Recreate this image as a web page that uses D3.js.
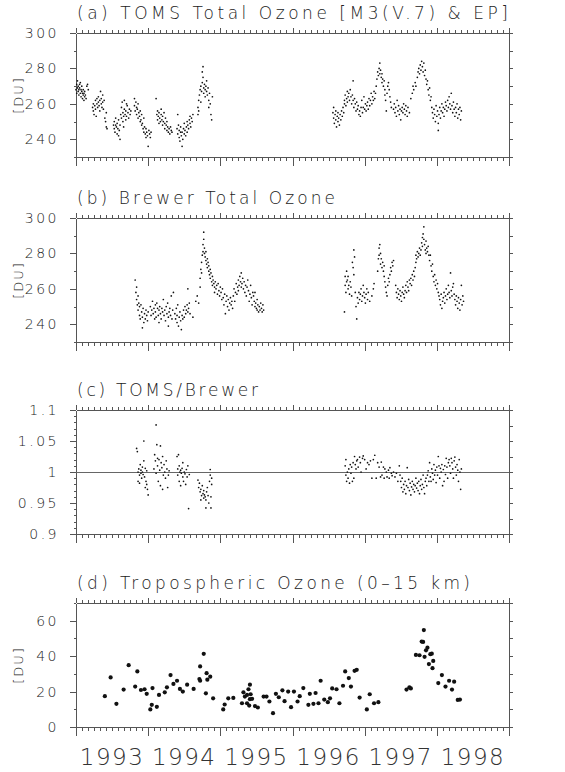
<!DOCTYPE html>
<meta charset="utf-8">
<head>
    <title>Ozone time series</title>
    <style>
        body { margin: 0; background: #fff; }
        svg { display: block; }
        text { font-family: "DejaVu Sans", sans-serif; font-weight: 200; fill: #222; }
        .axis path, .axis line { stroke: #555; stroke-width: 1; shape-rendering: crispEdges; }
        .axis text { font-family: "DejaVu Sans", sans-serif; font-weight: 200; font-size: 14px; letter-spacing: 2.5px; fill: #222; }
        .year { font-family: "DejaVu Sans", sans-serif; font-weight: 200; font-size: 23px; letter-spacing: 1.5px; fill: #333; }
    </style>
</head>

<body>
    <script src="https://cdn.jsdelivr.net/npm/d3@7"></script>

    <script>
        // data: [decimal year, value]
        var tomsOzone = [
            [1993.00,268],[1993.01,271],[1993.01,266],[1993.02,269],[1993.02,273],[1993.03,267],[1993.03,270],[1993.04,265],[1993.04,268],[1993.05,271],
            [1993.05,269],[1993.06,266],[1993.06,272],[1993.07,268],[1993.07,264],[1993.08,267],[1993.08,270],[1993.09,266],[1993.09,263],[1993.10,268],
            [1993.10,265],[1993.11,266],[1993.11,262],[1993.12,264],[1993.12,267],[1993.13,265],[1993.14,263],[1993.15,270],[1993.16,271],[1993.17,268],
            [1993.23,258],[1993.24,256],[1993.24,260],[1993.25,254],[1993.26,259],[1993.27,257],[1993.27,262],[1993.28,253],[1993.29,260],[1993.29,263],
            [1993.30,258],[1993.31,261],[1993.31,264],[1993.32,259],[1993.33,262],[1993.33,256],[1993.34,267],[1993.35,260],[1993.35,263],[1993.36,258],
            [1993.37,265],[1993.37,261],[1993.38,257],[1993.39,262],[1993.40,252],[1993.41,250],[1993.42,247],[1993.43,246],[1993.42,255],
            [1993.52,248],[1993.53,246],[1993.53,250],[1993.54,244],[1993.55,248],[1993.55,252],[1993.56,247],[1993.57,243],[1993.57,249],[1993.58,246],
            [1993.59,251],[1993.59,242],[1993.60,245],[1993.61,248],[1993.61,240],[1993.62,254],[1993.63,258],[1993.63,252],[1993.64,261],[1993.65,255],
            [1993.65,250],[1993.66,253],[1993.67,257],[1993.67,262],[1993.68,254],[1993.69,251],[1993.69,256],[1993.70,253],[1993.71,259],[1993.72,255],
            [1993.73,252],[1993.74,257],[1993.75,254],[1993.76,256],[1993.66,247],[1993.70,260],
            [1993.81,263],[1993.81,259],[1993.82,256],[1993.83,261],[1993.84,258],[1993.84,254],[1993.85,257],[1993.86,260],[1993.86,252],[1993.87,255],
            [1993.88,253],[1993.89,250],[1993.89,256],[1993.90,251],[1993.91,248],[1993.91,254],[1993.92,249],[1993.93,246],[1993.94,252],[1993.94,244],
            [1993.95,247],[1993.96,243],[1993.97,246],[1993.97,241],[1993.98,244],[1993.99,242],[1994.00,236],[1994.01,245],[1994.02,243],[1994.03,241],[1994.04,244],
            [1994.11,263],[1994.12,254],[1994.13,251],[1994.13,256],[1994.14,253],[1994.15,249],[1994.15,255],[1994.16,252],[1994.17,250],[1994.18,254],
            [1994.18,257],[1994.19,251],[1994.20,248],[1994.20,253],[1994.21,250],[1994.22,255],[1994.23,249],[1994.23,246],[1994.24,252],[1994.25,248],
            [1994.26,245],[1994.26,250],[1994.27,247],[1994.28,244],[1994.29,246],[1994.30,243],[1994.31,247],[1994.32,245],[1994.33,244],
            [1994.40,246],[1994.41,243],[1994.41,254],[1994.42,248],[1994.43,241],[1994.43,245],[1994.44,239],[1994.45,244],[1994.45,247],[1994.46,242],
            [1994.47,236],[1994.47,244],[1994.48,240],[1994.49,246],[1994.50,243],[1994.50,249],[1994.51,245],[1994.52,242],[1994.53,247],[1994.54,250],
            [1994.54,244],[1994.55,248],[1994.56,246],[1994.57,251],[1994.58,249],[1994.59,247],[1994.60,252],[1994.61,250],[1994.62,254],[1994.58,253],
            [1994.69,258],[1994.69,254],[1994.70,262],[1994.70,256],[1994.71,265],[1994.72,268],[1994.73,261],[1994.73,270],[1994.74,267],[1994.75,272],
            [1994.75,278],[1994.76,281],[1994.76,275],[1994.77,269],[1994.77,266],[1994.78,271],[1994.79,268],[1994.79,264],[1994.80,270],[1994.81,273],
            [1994.81,267],[1994.82,265],[1994.83,269],[1994.84,262],[1994.84,258],[1994.85,266],[1994.86,260],[1994.87,254],[1994.88,251],[1994.89,264],
            [1996.56,255],[1996.57,252],[1996.57,258],[1996.58,249],[1996.59,254],[1996.60,251],[1996.60,256],[1996.61,247],[1996.62,253],[1996.63,250],
            [1996.63,255],[1996.64,252],[1996.65,248],[1996.66,254],[1996.67,251],[1996.68,256],[1996.69,253],[1996.70,258],[1996.71,255],[1996.72,260],
            [1996.72,262],[1996.73,265],[1996.74,259],[1996.75,263],[1996.76,267],[1996.76,261],[1996.77,264],[1996.78,266],[1996.79,262],[1996.80,268],
            [1996.81,264],[1996.82,260],[1996.83,265],[1996.84,262],[1996.84,273],[1996.85,258],[1996.86,263],[1996.87,260],[1996.88,256],[1996.89,261],
            [1996.90,257],[1996.91,259],[1996.92,254],
            [1996.93,256],[1996.94,253],[1996.95,258],[1996.96,262],[1996.97,255],[1996.98,258],[1996.99,264],[1997.00,257],[1997.01,260],[1997.02,256],
            [1997.03,259],[1997.04,261],[1997.05,257],[1997.06,263],[1997.07,259],[1997.08,262],[1997.09,266],[1997.10,260],[1997.11,264],[1997.12,262],
            [1997.13,267],[1997.14,263],
            [1997.15,266],[1997.16,270],[1997.17,274],[1997.18,278],[1997.19,276],[1997.20,280],[1997.21,283],[1997.21,277],[1997.22,279],[1997.23,275],
            [1997.24,272],[1997.24,277],[1997.25,274],[1997.26,270],[1997.27,273],[1997.28,268],[1997.28,265],[1997.29,262],[1997.30,256],[1997.31,266],
            [1997.32,270],[1997.33,272],[1997.34,268],[1997.35,264],[1997.36,261],[1997.37,258],
            [1997.40,257],[1997.41,260],[1997.42,255],[1997.43,258],[1997.44,253],[1997.45,262],[1997.46,256],[1997.47,259],[1997.48,254],[1997.49,257],
            [1997.50,251],[1997.51,256],[1997.52,258],[1997.53,255],[1997.54,260],[1997.55,257],[1997.56,254],[1997.57,259],[1997.58,256],[1997.59,253],
            [1997.60,258],[1997.62,255],
            [1997.64,263],[1997.66,266],[1997.67,270],[1997.68,268],[1997.70,272],[1997.71,270],[1997.73,275],[1997.74,278],[1997.75,280],[1997.76,277],
            [1997.77,282],[1997.78,279],[1997.79,284],[1997.80,281],[1997.81,278],[1997.82,283],[1997.83,276],[1997.84,279],[1997.85,274],[1997.86,271],
            [1997.87,273],[1997.88,268],[1997.89,265],[1997.90,269],[1997.91,262],[1997.92,264],
            [1997.93,258],[1997.94,255],[1997.95,252],[1997.96,257],[1997.97,254],[1997.98,250],[1997.99,259],[1998.00,253],[1998.01,256],[1998.02,245],
            [1998.02,249],[1998.03,254],[1998.04,258],[1998.05,252],[1998.06,256],[1998.07,260],[1998.08,255],[1998.09,258],[1998.10,253],[1998.11,257],
            [1998.12,261],[1998.13,259],[1998.14,256],[1998.15,262],[1998.16,258],[1998.17,264],[1998.18,260],[1998.19,257],[1998.20,266],[1998.21,259],
            [1998.22,255],[1998.23,261],[1998.24,257],[1998.25,253],[1998.26,258],[1998.27,255],[1998.28,260],[1998.29,252],[1998.30,257],[1998.31,254],
            [1998.32,258],[1998.33,251],[1998.34,256]
        ];

        var brewerOzone = [
            [1993.82,265],[1993.83,258],[1993.84,254],[1993.84,261],[1993.85,251],[1993.86,256],[1993.86,248],[1993.87,252],[1993.88,245],[1993.88,250],
            [1993.89,243],[1993.90,251],[1993.91,247],[1993.92,238],[1993.92,244],[1993.93,249],[1993.94,241],[1993.95,246],[1993.96,243],[1993.97,248],
            [1993.98,245],[1993.99,242],[1994.00,247],
            [1994.03,250],[1994.04,245],[1994.05,248],[1994.06,253],[1994.07,246],[1994.08,249],[1994.09,243],[1994.10,251],[1994.10,247],[1994.11,244],
            [1994.12,252],[1994.13,249],[1994.14,245],[1994.15,241],[1994.15,248],[1994.16,250],[1994.17,246],[1994.18,243],[1994.19,249],[1994.20,247],
            [1994.21,254],[1994.22,245],[1994.23,248],[1994.24,242],[1994.25,250],[1994.26,246],[1994.27,252],[1994.28,244],[1994.28,239],[1994.29,247],
            [1994.30,249],[1994.31,245],[1994.32,256],[1994.33,243],[1994.34,248],[1994.35,258],
            [1994.37,246],[1994.38,243],[1994.39,249],[1994.40,241],[1994.40,245],[1994.41,251],[1994.42,239],[1994.43,244],[1994.44,247],[1994.45,242],
            [1994.46,237],[1994.47,245],[1994.48,243],[1994.49,248],[1994.50,244],[1994.51,250],[1994.52,246],[1994.53,248],[1994.54,251],[1994.55,247],
            [1994.56,249],[1994.57,252],[1994.58,246],[1994.55,260],
            [1994.62,244],[1994.66,253],[1994.68,256],[1994.70,252],[1994.72,261],
            [1994.72,266],[1994.73,271],[1994.74,275],[1994.74,269],[1994.75,279],[1994.76,281],[1994.76,285],[1994.77,292],[1994.77,288],[1994.78,280],
            [1994.78,283],[1994.79,278],[1994.80,276],[1994.80,281],[1994.81,274],[1994.82,277],[1994.82,272],[1994.83,275],[1994.84,270],[1994.84,273],
            [1994.85,268],[1994.86,271],[1994.86,266],[1994.87,269],[1994.88,264],[1994.89,267],[1994.89,262],[1994.90,265],[1994.91,263],[1994.92,261],[1994.92,258],
            [1994.93,264],[1994.94,260],[1994.95,262],[1994.96,257],[1994.97,263],[1994.98,259],[1994.99,256],[1995.00,261],[1995.01,258],[1995.02,254],
            [1995.03,260],[1995.04,255],[1995.05,251],[1995.06,257],[1995.07,246],[1995.08,253],[1995.09,256],[1995.10,250],[1995.11,254],[1995.12,248],
            [1995.13,252],[1995.14,255],[1995.15,251],[1995.16,253],[1995.17,249],
            [1995.18,256],[1995.19,260],[1995.20,253],[1995.21,258],[1995.22,263],[1995.23,257],[1995.24,261],[1995.25,265],[1995.25,259],[1995.26,262],
            [1995.27,267],[1995.28,264],[1995.29,261],[1995.29,269],[1995.30,263],[1995.31,266],[1995.32,260],[1995.33,264],[1995.34,258],[1995.35,262],
            [1995.36,256],[1995.37,261],[1995.38,265],[1995.39,259],[1995.40,253],[1995.41,257],[1995.42,262],[1995.43,255],[1995.44,251],[1995.45,258],
            [1995.46,256],[1995.47,253],[1995.48,250],[1995.48,258],[1995.49,252],[1995.50,249],[1995.51,254],[1995.51,248],[1995.52,251],[1995.53,247],
            [1995.54,250],[1995.55,248],[1995.56,252],[1995.57,249],[1995.58,247],[1995.59,251],[1995.60,248],
            [1996.72,247],[1996.73,262],[1996.73,267],[1996.74,258],[1996.75,264],[1996.75,270],[1996.76,265],[1996.77,260],[1996.77,267],[1996.78,262],
            [1996.79,257],[1996.80,264],[1996.81,261],[1996.82,256],[1996.83,275],[1996.84,272],[1996.85,282],[1996.85,268],[1996.86,278],[1996.87,258],
            [1996.88,250],[1996.89,243],[1996.90,255],[1996.91,252],
            [1996.92,258],[1996.93,254],[1996.94,257],[1996.95,260],[1996.96,253],[1996.97,256],[1996.98,262],[1996.99,258],[1997.00,255],[1997.01,252],
            [1997.02,257],[1997.03,260],[1997.04,254],[1997.05,258],[1997.07,253],[1997.10,256],[1997.12,260],[1997.13,263],
            [1997.18,270],[1997.19,277],[1997.20,283],[1997.20,279],[1997.21,285],[1997.22,280],[1997.22,274],[1997.23,277],[1997.24,272],[1997.25,275],
            [1997.26,270],[1997.27,273],[1997.27,267],[1997.28,264],[1997.29,261],[1997.30,258],[1997.31,256],[1997.32,262],[1997.33,266],[1997.34,264],
            [1997.35,268],[1997.36,272],[1997.37,270],[1997.38,275],[1997.39,273],[1997.40,276],
            [1997.43,262],[1997.44,258],[1997.45,255],[1997.46,260],[1997.47,257],[1997.48,254],[1997.49,259],[1997.50,256],[1997.51,253],[1997.52,258],
            [1997.53,261],[1997.54,257],[1997.55,255],[1997.56,259],[1997.57,262],[1997.58,258],[1997.59,264],[1997.60,261],[1997.61,259],[1997.62,265],
            [1997.63,263],[1997.64,266],[1997.65,262],[1997.66,268],[1997.67,265],[1997.68,270],[1997.69,267],[1997.70,272],[1997.71,275],[1997.71,279],
            [1997.72,277],[1997.73,281],[1997.74,278],[1997.75,280],[1997.76,283],[1997.77,279],[1997.78,282],
            [1997.79,286],[1997.80,289],[1997.80,284],[1997.81,291],[1997.82,295],[1997.82,288],[1997.83,285],[1997.84,282],[1997.85,287],[1997.85,280],
            [1997.86,283],[1997.87,281],[1997.88,284],[1997.89,279],
            [1997.90,276],[1997.91,279],[1997.92,273],[1997.93,270],[1997.94,274],[1997.95,267],[1997.96,264],[1997.97,268],[1997.98,262],[1997.99,265],
            [1998.00,260],[1998.01,263],[1998.02,258],[1998.03,256],
            [1998.04,254],[1998.05,251],[1998.06,257],[1998.07,249],[1998.08,253],[1998.09,255],[1998.10,258],[1998.11,252],[1998.12,256],[1998.13,260],
            [1998.14,254],[1998.15,257],[1998.16,262],[1998.17,258],[1998.18,255],[1998.19,269],[1998.20,259],[1998.21,256],[1998.22,261],[1998.23,263],
            [1998.24,257],[1998.25,254],[1998.26,251],[1998.27,256],[1998.28,253],[1998.29,249],[1998.30,255],[1998.31,252],[1998.32,248],[1998.33,254],
            [1998.34,262],[1998.35,251],[1998.36,256],[1998.37,253]
        ];

        var tomsBrewerRatio = [
            [1993.84,1.038],[1993.85,1.033],[1993.86,1.000],[1993.86,0.985],[1993.87,1.005],[1993.88,0.995],[1993.88,0.982],[1993.89,1.012],[1993.90,0.998],
            [1993.90,1.003],[1993.91,0.990],[1993.92,1.008],[1993.92,1.000],[1993.93,0.996],[1993.94,1.050],[1993.94,1.018],[1993.95,0.992],[1993.96,1.006],
            [1993.96,0.975],[1993.97,0.985],[1993.98,0.980],[1993.99,0.972],[1994.00,0.963],[1993.98,1.002],
            [1994.08,1.005],[1994.09,1.028],[1994.10,1.018],[1994.11,1.076],[1994.11,0.998],[1994.12,1.044],[1994.13,1.022],[1994.13,1.010],[1994.14,0.985],
            [1994.15,1.020],[1994.16,1.003],[1994.17,1.042],[1994.17,0.978],[1994.18,1.015],[1994.19,1.007],[1994.20,1.025],[1994.20,0.972],[1994.21,0.995],
            [1994.22,1.012],[1994.23,1.000],[1994.24,0.990],[1994.25,1.018],[1994.26,1.005],[1994.27,0.975],[1994.28,0.995],[1994.29,1.002],
            [1994.40,1.025],[1994.41,1.005],[1994.41,0.995],[1994.42,1.028],[1994.43,1.010],[1994.43,0.985],[1994.44,1.000],[1994.45,1.003],[1994.45,0.978],
            [1994.46,0.998],[1994.47,1.006],[1994.48,0.992],[1994.48,1.015],[1994.49,0.985],[1994.50,1.000],[1994.51,0.997],[1994.52,0.980],[1994.53,1.004],
            [1994.54,0.992],[1994.55,1.010],[1994.56,0.941],[1994.57,0.996],
            [1994.69,0.987],[1994.70,0.975],[1994.71,0.982],[1994.72,0.968],[1994.73,0.955],[1994.73,0.972],[1994.74,0.962],[1994.75,0.978],[1994.76,0.965],
            [1994.77,0.958],[1994.77,0.970],[1994.78,0.963],[1994.79,0.960],[1994.80,0.955],[1994.80,0.942],[1994.81,0.968],[1994.82,0.975],[1994.83,0.962],
            [1994.84,0.950],[1994.85,0.985],[1994.86,1.004],[1994.86,0.995],[1994.87,0.960],[1994.87,0.942],[1994.88,0.980],[1994.88,0.990],
            [1996.73,1.010],[1996.74,0.995],[1996.74,1.020],[1996.75,0.985],[1996.76,1.000],[1996.77,0.990],[1996.78,1.005],[1996.79,0.982],[1996.80,1.012],
            [1996.81,0.998],[1996.82,1.008],[1996.83,0.985],[1996.84,1.015],[1996.85,0.990],[1996.86,1.025],[1996.87,1.012],[1996.88,1.005],[1996.89,1.018],
            [1996.90,1.020],[1996.91,1.008],[1996.93,1.024],[1996.94,1.015],[1996.95,1.000],[1996.97,1.022],[1996.98,1.026],[1997.00,1.020],[1997.02,1.005],
            [1997.04,1.015],[1997.06,1.012],[1997.08,1.018],[1997.10,0.990],[1997.12,1.020],[1997.14,1.027],[1997.16,0.990],[1997.18,1.015],[1997.20,1.008],
            [1997.22,0.992],
            [1997.23,1.016],[1997.24,0.995],[1997.26,1.008],[1997.27,0.990],[1997.28,1.005],[1997.30,1.000],[1997.31,0.992],[1997.33,1.003],[1997.34,0.990],
            [1997.35,1.007],[1997.37,0.998],[1997.38,0.994],[1997.40,1.000],[1997.42,0.992],[1997.44,0.998],[1997.46,0.985],[1997.48,1.010],
            [1997.49,0.995],[1997.50,0.985],[1997.51,0.975],[1997.52,0.990],[1997.53,0.968],[1997.54,0.980],[1997.55,0.972],[1997.56,0.985],[1997.57,0.965],
            [1997.58,0.978],[1997.59,1.007],[1997.60,0.975],[1997.61,0.988],[1997.62,0.970],[1997.63,0.982],[1997.64,0.963],[1997.65,0.976],[1997.66,0.985],
            [1997.67,0.972],[1997.68,0.980],[1997.69,0.968],[1997.70,0.978],[1997.71,0.990],[1997.72,0.974],[1997.73,0.982],[1997.74,0.970],[1997.75,0.985],
            [1997.76,0.965],[1997.77,0.978],[1997.78,0.988],[1997.79,0.972],[1997.80,0.980],[1997.81,0.995],[1997.82,0.975],[1997.83,0.965],[1997.84,0.985],
            [1997.85,0.990],[1997.86,0.978],[1997.87,0.995],[1997.88,1.002],[1997.89,0.985],
            [1997.90,1.015],[1997.91,0.992],[1997.92,0.985],[1997.93,1.005],[1997.94,0.998],[1997.95,0.988],[1997.96,1.012],[1997.97,0.995],[1997.98,1.003],
            [1997.99,0.983],[1998.00,1.008],[1998.01,0.995],[1998.02,1.025],[1998.03,1.010],[1998.04,0.990],[1998.05,1.006],[1998.06,1.000],[1998.07,1.012],
            [1998.08,0.978],[1998.09,1.004],[1998.10,0.985],[1998.11,1.010],[1998.12,0.996],[1998.13,1.022],[1998.14,1.008],[1998.15,0.990],[1998.16,1.015],
            [1998.17,1.020],[1998.18,1.010],[1998.19,0.998],[1998.20,1.022],[1998.21,1.015],[1998.22,1.005],[1998.23,0.990],[1998.24,1.018],[1998.25,1.024],
            [1998.26,1.008],[1998.27,0.995],[1998.28,1.012],[1998.29,1.003],[1998.30,0.985],[1998.31,1.020],[1998.32,1.000],[1998.33,0.972],[1998.34,1.005]
        ];

        var tropoOzone = [
            [1993.40,17.4],[1993.48,28.0],[1993.56,13.1],[1993.66,21.1],[1993.73,34.9],[1993.82,22.8],[1993.85,31.4],[1993.90,20.9],[1993.95,21.3],
            [1993.98,18.7],[1994.03,9.9],[1994.05,12.5],[1994.06,22.0],[1994.12,11.4],[1994.15,18.1],[1994.23,19.6],[1994.26,22.4],[1994.31,29.3],
            [1994.35,24.3],[1994.40,26.1],[1994.44,21.5],[1994.48,20.0],[1994.54,23.9],[1994.63,21.5],[1994.71,27.1],[1994.72,34.2],[1994.72,26.1],
            [1994.77,41.3],[1994.80,19.0],[1994.81,30.4],[1994.82,26.7],[1994.86,28.4],[1994.90,16.2],
            [1995.04,9.9],[1995.06,12.7],[1995.11,16.2],[1995.18,16.4],[1995.30,13.4],[1995.32,19.6],[1995.34,17.2],[1995.37,18.1],[1995.37,13.4],
            [1995.39,21.3],[1995.40,12.1],[1995.41,23.9],[1995.41,15.7],[1995.42,18.5],[1995.44,15.9],[1995.48,11.8],[1995.52,11.0],[1995.60,17.2],
            [1995.64,17.2],[1995.68,14.4],[1995.73,7.8],[1995.77,18.7],[1995.81,16.8],[1995.86,20.7],[1995.89,14.6],[1995.94,20.0],[1995.98,11.2],
            [1996.02,20.0],[1996.07,14.4],[1996.10,17.4],[1996.15,22.0],[1996.22,12.5],[1996.24,18.7],[1996.29,13.1],[1996.32,19.2],[1996.36,13.4],
            [1996.39,26.1],[1996.44,15.5],[1996.49,14.0],[1996.52,16.2],[1996.55,21.8],[1996.61,21.3],[1996.65,13.4],[1996.70,23.3],[1996.73,31.4],
            [1996.78,27.6],[1996.81,22.8],[1996.86,31.7],[1996.89,32.3],[1996.93,16.6],[1997.03,9.9],[1997.07,18.5],[1997.13,13.4],[1997.19,14.0],
            [1997.58,21.1],[1997.62,22.4],[1997.64,21.8],[1997.71,40.7],[1997.76,40.5],[1997.79,48.2],[1997.81,48.0],[1997.82,54.7],[1997.83,39.6],
            [1997.85,43.3],[1997.87,44.8],[1997.89,35.5],[1997.91,41.1],[1997.93,41.4],[1997.94,33.2],[1997.95,37.3],[1998.02,24.8],[1998.07,29.3],
            [1998.12,22.8],[1998.17,26.1],[1998.21,21.1],[1998.24,25.6],[1998.29,15.3],[1998.32,15.5]
        ];

        // axis ticks and labels
        var yearTicks = [1993, 1994, 1995, 1996, 1997, 1998, 1999];
        var yearLabels = ["1993", "1994", "1995", "1996", "1997", "1998"];
        var ozoneTicks = [240, 260, 280, 300];
        var ratioTicks = [0.9, 0.95, 1, 1.05, 1.1];
        var ratioLabels = ["0.9", "0.95", "1", "1.05", "1.1"];
        var tropoTicks = [0, 20, 40, 60];

        var width = 565, height = 772;
        var left = 76, right = 509, panelH = 124;

        var svg = d3.select("body")
            .append("svg")
            .attr("width", width)
            .attr("height", height);

        var x = d3.scaleLinear().domain([1993, 1999]).range([left, right]);
        var monthTicks = d3.range(0, 72).map(function (m) { return 1993 + m / 12; });

        var panels = [
            { top: 33, title: "(a) TOMS Total Ozone [M3(V.7) & EP]", titleLen: 431, domain: [230, 300],
              ticks: ozoneTicks, labels: ozoneTicks.map(String), minorL: d3.range(230, 301, 10), minorR: d3.range(230, 301, 10),
              data: tomsOzone, r: 0.85, du: true },
            { top: 218, title: "(b) Brewer Total Ozone", titleLen: 258, domain: [230, 300],
              ticks: ozoneTicks, labels: ozoneTicks.map(String), minorL: d3.range(230, 301, 10), minorR: d3.range(230, 301, 10),
              data: brewerOzone, r: 0.85, du: true },
            { top: 410, title: "(c) TOMS/Brewer", titleLen: 181, domain: [0.9, 1.1],
              ticks: ratioTicks, labels: ratioLabels, minorL: d3.range(0, 21).map(function (i) { return 0.9 + i / 100; }),
              minorR: d3.range(0, 9).map(function (i) { return 0.9 + i * 0.025; }),
              data: tomsBrewerRatio, r: 0.85, du: false, refLine: 1 },
            { top: 603, title: "(d) Tropospheric Ozone (0\u201315 km)", titleLen: 393, domain: [0, 70],
              ticks: tropoTicks, labels: tropoTicks.map(String), minorL: d3.range(0, 71, 10), minorR: d3.range(0, 71, 10),
              data: tropoOzone, r: 2.1, du: true }
        ];

        panels.forEach(function (p) {
            var y = d3.scaleLinear().domain(p.domain).range([p.top + panelH, p.top]);
            var g = svg.append("g");

            // minor ticks first, then the framed major axes
            g.append("g").attr("class", "axis").attr("transform", "translate(0," + p.top + ")")
                .call(d3.axisTop(x).tickValues(monthTicks).tickSize(3.5).tickSizeOuter(0).tickFormat(""));
            g.append("g").attr("class", "axis").attr("transform", "translate(0," + (p.top + panelH) + ")")
                .call(d3.axisBottom(x).tickValues(monthTicks).tickSize(4).tickSizeOuter(0).tickFormat(""));
            g.append("g").attr("class", "axis").attr("transform", "translate(" + left + ",0)")
                .call(d3.axisLeft(y).tickValues(p.minorL).tickSize(2.5).tickSizeOuter(0).tickFormat(""));
            g.append("g").attr("class", "axis").attr("transform", "translate(" + right + ",0)")
                .call(d3.axisRight(y).tickValues(p.minorR).tickSize(4).tickSizeOuter(0).tickFormat(""));

            g.append("g").attr("class", "axis").attr("transform", "translate(0," + p.top + ")")
                .call(d3.axisTop(x).tickValues(yearTicks).tickSize(5).tickSizeOuter(0).tickFormat(""));
            g.append("g").attr("class", "axis").attr("transform", "translate(0," + (p.top + panelH) + ")")
                .call(d3.axisBottom(x).tickValues(yearTicks).tickSize(9).tickSizeOuter(0).tickFormat(""));
            g.append("g").attr("class", "axis").attr("transform", "translate(" + left + ",0)")
                .call(d3.axisLeft(y).tickValues(p.ticks).tickSize(6).tickSizeOuter(0).tickPadding(11)
                    .tickFormat(function (d, i) { return p.labels[i]; }));

            if (p.refLine !== undefined) {
                g.append("line")
                    .attr("x1", left).attr("x2", right)
                    .attr("y1", y(p.refLine)).attr("y2", y(p.refLine))
                    .attr("stroke", "#666").attr("stroke-width", 1)
                    .style("shape-rendering", "crispEdges");
            }

            g.append("text")
                .attr("x", 77)
                .attr("y", p.top - 14)
                .attr("textLength", p.titleLen)
                .attr("lengthAdjust", "spacing")
                .style("font-size", "17px")
                .text(p.title);

            if (p.du) {
                g.append("text")
                    .attr("transform", "translate(23," + (p.top + panelH / 2) + ") rotate(-90)")
                    .attr("text-anchor", "middle")
                    .style("font-size", "13px")
                    .style("letter-spacing", "2px")
                    .text("[DU]");
            }

            g.append("g")
                .selectAll("circle")
                .data(p.data)
                .enter()
                .append("circle")
                .attr("cx", function (d) { return x(d[0]); })
                .attr("cy", function (d) { return y(d[1]); })
                .attr("r", p.r)
                .attr("fill", "#111");
        });

        // year labels under the last panel, centred in each year
        svg.append("g")
            .selectAll("text")
            .data(yearLabels)
            .enter()
            .append("text")
            .attr("class", "year")
            .attr("x", function (d) { return x(+d + 0.5); })
            .attr("y", 765)
            .attr("text-anchor", "middle")
            .text(function (d) { return d; });
    </script>
</body>

</html>
